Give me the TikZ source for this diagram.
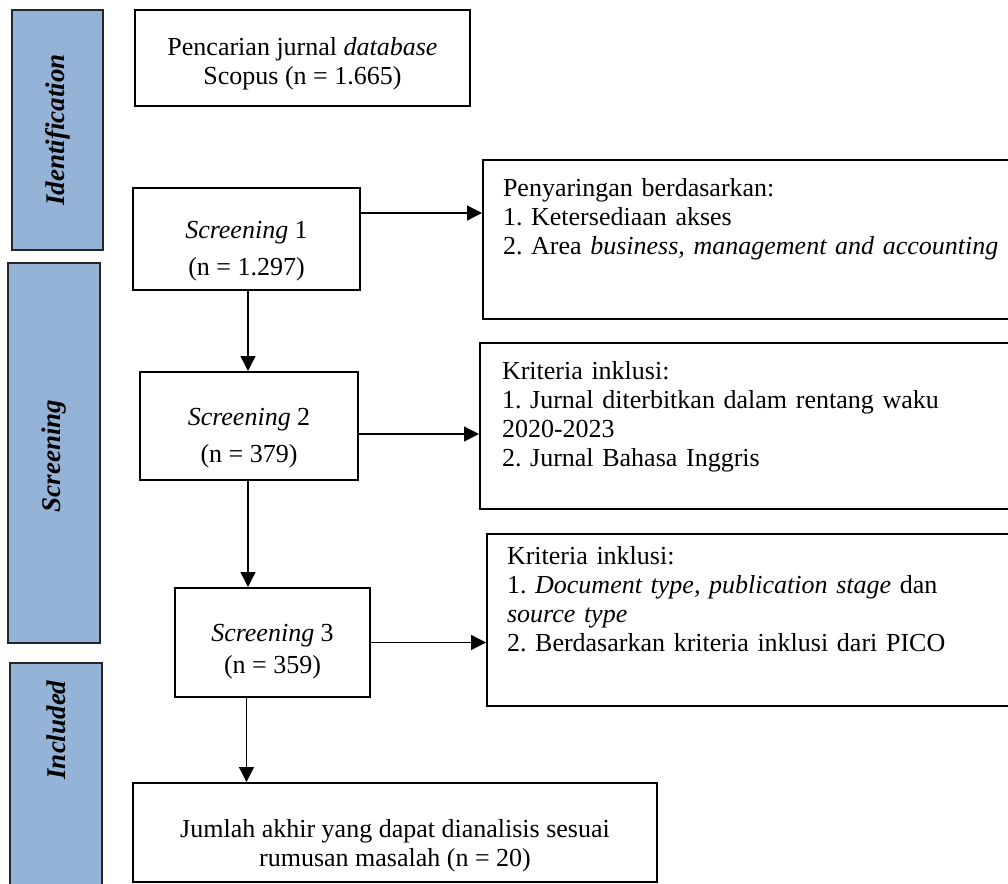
\documentclass[tikz,border=0pt]{standalone}
\usepackage{fontspec}
\setmainfont{Liberation Serif}
\usepackage{tikz}
\usetikzlibrary{positioning,arrows.meta}
\definecolor{phaseblue}{RGB}{149,179,215}
\newcommand\topgap[1]{\rule{0pt}{#1}}% taller first line, pushes the text down
\tikzset{
  % --- phase bars on the left ------------------------------------------------
  phase/.style={rectangle,draw=black!85,fill=phaseblue,line width=0.9pt,
                inner sep=0pt},
  phaselab/.style={rotate=90,font=\fontsize{13.5}{15}\selectfont\bfseries\itshape},
  % --- boxes of the flow -----------------------------------------------------
  stage/.style={rectangle,draw,line width=1pt,align=center,inner sep=0pt,
                font=\fontsize{13}{14.5}\selectfont\frenchspacing},
  % criteria boxes: text hangs from the top, right side runs off the page
  crit/.style n args={3}{rectangle,draw,line width=1pt,anchor=north west,
                align=left,text width=262pt,inner ysep=0pt,inner xsep=#3,
                text height=#1,text depth=#2,
                font=\fontsize{13}{14.5}\selectfont\frenchspacing},
  % --- arrows ----------------------------------------------------------------
  flow/.style={-{Triangle[length=7.5pt,width=7.5pt]},line width=0.7pt},
}

\begin{document}
\begin{tikzpicture}[x=0.5pt, y=-0.5pt]
  \useasboundingbox (0,0) rectangle (1008,884);

  % phases
  \node[phase,minimum width=45.5pt,minimum height=120pt]   (ident) at (57.5,130)  {};
  \node[phase,minimum width=46pt,minimum height=190pt]     (scrn)  at (54,453)    {};
  \node[phase,minimum width=46pt,minimum height=113.5pt]   (incl)  at (56,776.5)  {};
  \node[phaselab] (identlab) at (57.5,130) {Identification};
  \node[phaselab] (scrnlab)  at (54,456)   {Screening};
  \node[phaselab] (incllab)  at (56,730)   {Included};

  % main column
  \node[stage,minimum width=167.5pt,minimum height=48pt] (search) at (302.5,58)
    {\topgap{15pt}Pencarian jurnal \textit{database}\\Scopus (n = 1.665)};
  \node[stage,minimum width=113.5pt,minimum height=51pt] (scr1) at (246.5,239)
    {\topgap{21pt}\textit{Screening} 1\\[4pt](n = 1.297)};
  \node[stage,minimum width=109pt,minimum height=54pt] (scr2) at (249,426)
    {\topgap{21pt}\textit{Screening} 2\\[4pt](n = 379)};
  \node[stage,minimum width=97.5pt,minimum height=54.5pt] (scr3) at (272.5,642.5)
    {\topgap{18pt}\textit{Screening} 3\\[1.5pt](n = 359)};
  \node[stage,minimum width=262pt,minimum height=49.5pt] (final) at (395,832.5)
    {\topgap{22pt}Jumlah akhir yang dapat dianalisis sesuai\\rumusan masalah (n = 20)};

  % criteria on the right
  \node[crit={18pt}{61.5pt}{10pt}] (crit1) at (482,159)
    {Penyaringan berdasarkan:\\1. Ketersediaan akses\\2. Area \textit{business, management and accounting}};
  \node[crit={18pt}{65pt}{11pt}] (crit2) at (479,342)
    {Kriteria inklusi:\\1. Jurnal diterbitkan dalam rentang waku\\2020-2023\\2. Jurnal Bahasa Inggris};
  \node[crit={15pt}{71pt}{10pt}] (crit3) at (486,533)
    {Kriteria inklusi:\\1. \textit{Document type, publication stage} dan\\\textit{source type}\\2. Berdasarkan kriteria inklusi dari PICO};

  % arrows
  \draw[flow] ([yshift=13pt]scr1.east) coordinate (o1) -- (o1 -| crit1.west);
  \draw[flow] ([yshift=-4pt]scr2.east) coordinate (o2) -- (o2 -| crit2.west);
  \draw[flow] (scr3.east) -- (scr3.east -| crit3.west);
  \draw[flow] ([xshift=0.75pt]scr1.south) coordinate (d1) -- (d1 |- scr2.north);
  \draw[flow] ([xshift=-0.5pt]scr2.south) coordinate (d2) -- (d2 |- scr3.north);
  \draw[flow] ([xshift=-13pt]scr3.south) coordinate (d3) -- (d3 |- final.north);
\end{tikzpicture}
\end{document}
